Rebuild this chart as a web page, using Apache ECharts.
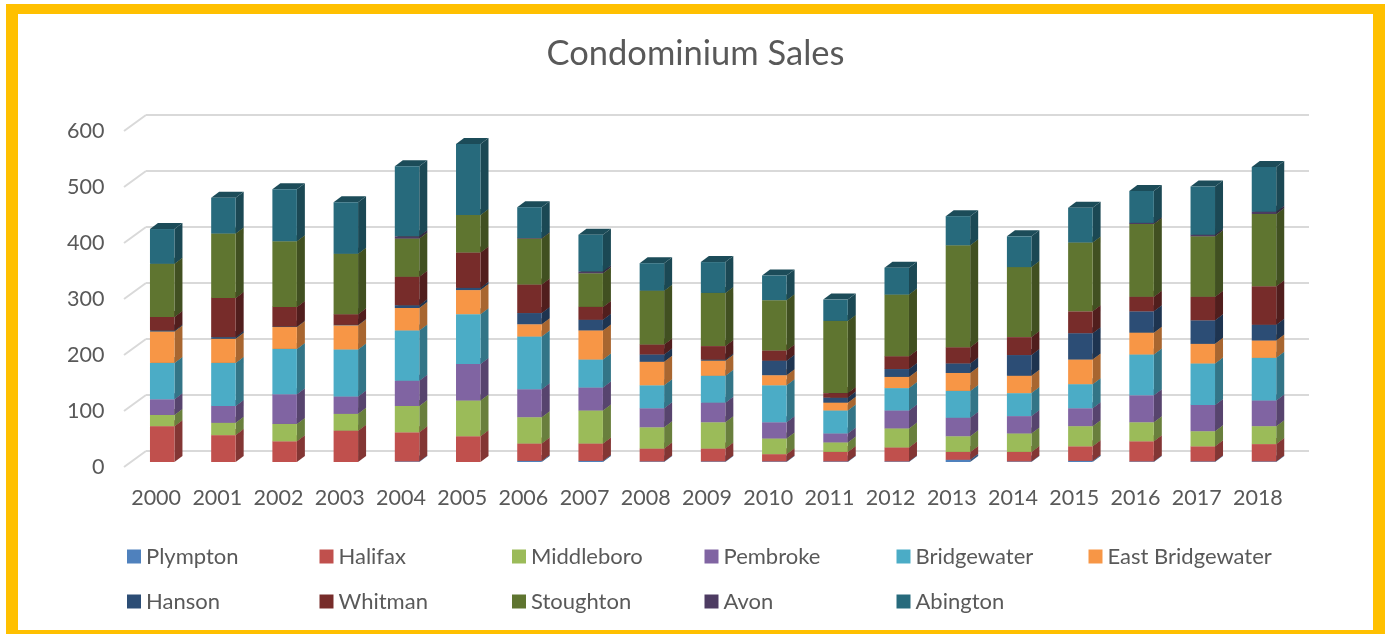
<!DOCTYPE html>
<html><head><meta charset="utf-8">
<script src="https://cdn.jsdelivr.net/npm/echarts@6/dist/echarts.min.js"></script>
<style>html,body{margin:0;padding:0;background:#fff}#c{width:1392px;height:634px}</style></head>
<body><div id="c"></div>
<script>
const years = ['2000','2001','2002','2003','2004','2005','2006','2007','2008','2009','2010','2011','2012','2013','2014','2015','2016','2017','2018'];
const yTicks = [0,100,200,300,400,500,600];
const Plympton       = [0,0,0,0,1,0,2,2,1,1,1,1,1,4,1,2,1,1,1];
const Halifax        = [64,48,37,56,52,46,31,31,23,23,13,17,25,14,17,26,36,27,31];
const Middleboro     = [20,22,31,30,47,64,47,59,38,47,28,17,34,28,33,36,34,27,32];
const Pembroke       = [28,30,53,31,45,65,50,41,34,35,29,16,32,33,31,32,48,47,46];
const Bridgewater    = [65,77,81,84,90,89,94,50,41,48,66,41,40,48,41,43,73,74,76];
const EastBridgewater= [56,43,39,43,40,43,22,52,42,27,18,14,20,32,31,44,39,35,31];
const Hanson         = [2,3,1,1,5,4,20,19,13,2,26,9,14,17,37,47,38,42,28];
const Whitman        = [24,70,35,19,51,63,51,23,18,24,18,8,23,29,32,39,26,42,69];
const Stoughton      = [95,115,117,108,68,67,82,60,96,95,90,129,110,182,125,123,130,108,129];
const Avon           = [0,0,0,0,4,0,1,3,0,0,0,0,0,0,0,0,2,3,4];
const Abington       = [62,64,93,92,125,127,55,66,49,55,44,38,48,52,55,62,57,86,80];

const seriesDefs = [
  ['Plympton',Plympton,'#4F81BD'],['Halifax',Halifax,'#C0504D'],['Middleboro',Middleboro,'#9BBB59'],
  ['Pembroke',Pembroke,'#8064A2'],['Bridgewater',Bridgewater,'#4BACC6'],['East Bridgewater',EastBridgewater,'#F79646'],
  ['Hanson',Hanson,'#2C4D75'],['Whitman',Whitman,'#772C2A'],['Stoughton',Stoughton,'#5F7530'],
  ['Avon',Avon,'#4D3B62'],['Abington',Abington,'#276A7C']
];
const FONT='Lato', TXT='#595959';
function shade(hex,f){const n=parseInt(hex.slice(1),16);
  return 'rgb('+[(n>>16)&255,(n>>8)&255,n&255].map(v=>Math.round(v*f)).join(',')+')';}
const floorDX=-22, floorDY=16, barDX=-14.4, barDY=11, depthX=8, depthY=-6;

function barRender(color){
  const side=shade(color,0.68), top=shade(color,0.72);
  return function(params,api){
    const start=api.value(1), end=api.value(2);
    if(end<=start) return;
    const band=api.size([1,0])[0], w=band*0.4;
    const a=api.coord([api.value(0),start]), b=api.coord([api.value(0),end]);
    const x0=a[0]+barDX-w/2, x1=x0+w, y0=a[1]+barDY, y1=b[1]+barDY;
    return {type:'group',children:[
      {type:'polygon',shape:{points:[[x1,y0],[x1+depthX,y0+depthY],[x1+depthX,y1+depthY],[x1,y1]]},style:{fill:side}},
      {type:'polygon',shape:{points:[[x0,y1],[x1,y1],[x1+depthX,y1+depthY],[x0+depthX,y1+depthY]]},style:{fill:top}},
      {type:'rect',shape:{x:x0,y:y1,width:w,height:y0-y1},style:{fill:color}}
    ]};
  };
}
const cum=years.map(()=>0);
const barSeries=seriesDefs.map(([name,vals,color])=>{
  const data=vals.map((v,i)=>{const s=cum[i];cum[i]+=v;return [i,s,cum[i]];});
  return {name,type:'custom',coordinateSystem:'cartesian2d',xAxisIndex:0,yAxisIndex:0,renderItem:barRender(color),
    itemStyle:{color},encode:{x:0,y:[1,2]},data,z:5,silent:true};
});
const floorSeries={type:'custom',name:'floor',coordinateSystem:'cartesian2d',xAxisIndex:0,yAxisIndex:0,silent:true,z:1,
  data:yTicks.map(t=>[0,t]),encode:{x:0,y:1},
  renderItem(p,api){
    const c=api.coord([0,api.value(1)]), x=c[0]-api.size([1,0])[0]/2;
    return {type:'line',shape:{x1:x,y1:c[1],x2:x+floorDX,y2:c[1]+floorDY},style:{stroke:'#d9d9d9',lineWidth:2}};
  }};
const legendCols=[[0,6],[1,7],[2,8],[3,9],[4,10],[5]];
const legendX=[127,319.5,512,704.5,896.5,1088.5];
const border=[[6,4,1379,10],[6,4,12,630],[1373,4,12,630],[6,630,1379,4]];
const option={
  animation:false,backgroundColor:'#fff',
  title:{text:'Condominium Sales',left:690.5,top:31.5,textAlign:'center',
    textStyle:{fontFamily:FONT,fontSize:34.5,fontWeight:'normal',color:TXT}},
  grid:[{left:146,top:115,width:1163,height:336},{left:125.5,top:131,width:1163,height:336}],
  xAxis:[
    {type:'category',gridIndex:0,data:years,axisLine:{show:false},axisTick:{show:false},axisLabel:{show:false},splitLine:{show:false}},
    {type:'category',gridIndex:1,data:years,axisLine:{show:false},axisTick:{show:false},splitLine:{show:false},
      axisLabel:{margin:20,fontFamily:FONT,fontSize:21.5,color:TXT,interval:0}}
  ],
  yAxis:[
    {type:'value',gridIndex:0,min:0,max:600,interval:100,axisLine:{show:false},axisTick:{show:false},axisLabel:{show:false},
      splitLine:{show:true,lineStyle:{color:'#d9d9d9',width:2}}},
    {type:'value',gridIndex:1,min:0,max:600,interval:100,axisLine:{show:false},axisTick:{show:false},splitLine:{show:false},
      axisLabel:{margin:21,fontFamily:FONT,fontSize:21.5,color:TXT}}
  ],
  legend:legendCols.map((col,i)=>({
    orient:'vertical',left:legendX[i],top:545,padding:0,itemWidth:14,itemHeight:14,itemGap:22,
    icon:'rect',selectedMode:false,data:col.map(j=>seriesDefs[j][0]),
    textStyle:{fontFamily:FONT,fontSize:22,color:TXT,lineHeight:23}
  })),
  graphic:border.map(([x,y,width,height])=>({type:'rect',z:100,silent:true,shape:{x,y,width,height},style:{fill:'#FFC000'}})),
  series:[floorSeries,...barSeries]
};
echarts.init(document.getElementById('c'),null,{renderer:'canvas'}).setOption(option);
</script></body></html>
